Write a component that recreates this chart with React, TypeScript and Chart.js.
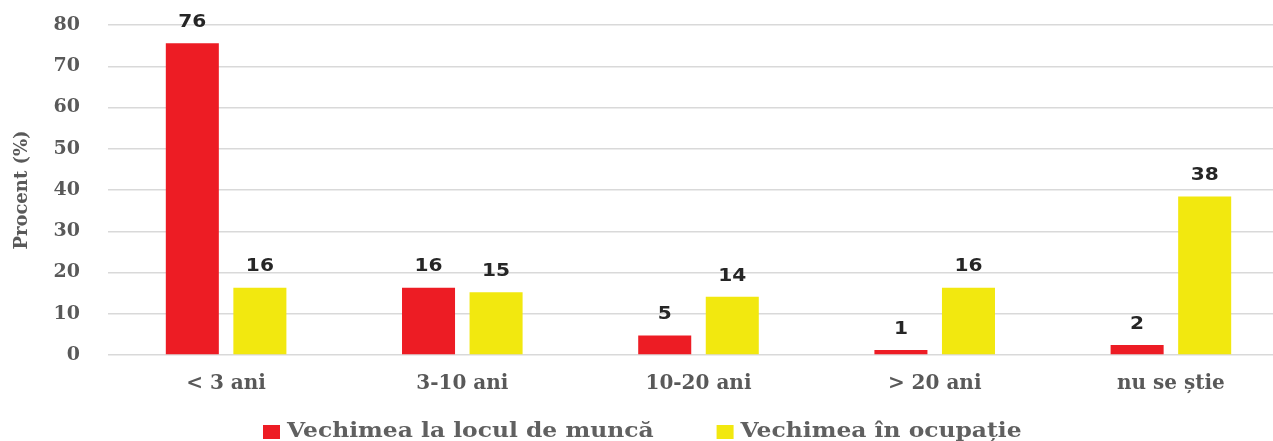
import React, { useEffect, useRef } from "react";
import { Chart, registerables } from "chart.js";

Chart.register(...registerables);

const categories = ["< 3 ani", "3-10 ani", "10-20 ani", "> 20 ani", "nu se știe"];
const seriesNames = ["Vechimea la locul de muncă", "Vechimea în ocupație"];
const jobTenure = [75.6, 16.3, 4.7, 1.2, 2.4];
const occupationTenure = [16.3, 15.2, 14.1, 16.3, 38.4];
const yTicks = [0, 10, 20, 30, 40, 50, 60, 70, 80];
const yTitle = "Procent (%)";

const RED = "#ED1C24";
const YELLOW = "#F2E80F";
const GRAY = "#595959";
const SERIF = "'DejaVu Serif', 'Liberation Serif', serif";

const valueLabels = {
  id: "valueLabels",
  afterDatasetsDraw(chart: any) {
    const ctx = chart.ctx;
    ctx.save();
    ctx.font = "bold 18px 'DejaVu Sans', sans-serif";
    ctx.fillStyle = "#262626";
    ctx.textAlign = "center";
    ctx.textBaseline = "middle";
    chart.data.datasets.forEach((ds: any, di: number) => {
      const meta = chart.getDatasetMeta(di);
      meta.data.forEach((bar: any, i: number) => {
        ctx.save();
        ctx.translate(bar.x, bar.y - 21);
        ctx.scale(1.12, 1);
        ctx.fillText(String(Math.round(ds.data[i])), 0, 0);
        ctx.restore();
      });
    });
    ctx.restore();
  },
};

const customLegend = {
  id: "customLegend",
  afterDraw(chart: any) {
    const ctx = chart.ctx;
    ctx.save();
    ctx.font = "bold 20px " + SERIF;
    ctx.textBaseline = "middle";
    ctx.textAlign = "left";
    const sx = 1.17;
    const y = 432;
    let x = 263;
    chart.data.datasets.forEach((ds: any) => {
      ctx.fillStyle = ds.backgroundColor;
      ctx.fillRect(x, y - 7, 17, 14);
      x += 17 + 7;
      ctx.fillStyle = "#606060";
      ctx.save();
      ctx.translate(x, y);
      ctx.scale(sx, 1);
      ctx.fillText(ds.label, 0, 0);
      ctx.restore();
      x += ctx.measureText(ds.label).width * sx + 63;
    });
    ctx.restore();
  },
};

export default function App() {
  const ref = useRef<HTMLCanvasElement | null>(null);
  useEffect(() => {
    if (!ref.current) return;
    const chart = new Chart(ref.current, {
      type: "bar",
      data: {
        labels: categories,
        datasets: [
          { label: seriesNames[0], data: jobTenure, backgroundColor: RED },
          { label: seriesNames[1], data: occupationTenure, backgroundColor: YELLOW },
        ],
      },
      options: {
        animation: false,
        responsive: false,
        maintainAspectRatio: false,
        layout: { padding: { top: 25, left: 0, right: 1, bottom: 0 } },
        datasets: {
          bar: { categoryPercentage: 0.572, barPercentage: 0.785 },
        } as any,
        plugins: {
          legend: { display: false },
          tooltip: { enabled: false },
        },
        scales: {
          x: {
            grid: { display: false },
            border: { display: false },
            ticks: {
              color: GRAY,
              padding: 9,
              font: { family: SERIF, size: 20, weight: "bold" },
            },
            afterFit: (s: any) => {
              s.height = 86;
            },
          },
          y: {
            min: 0,
            max: 80,
            afterBuildTicks: (s: any) => {
              s.ticks = yTicks.map((v) => ({ value: v }));
            },
            grid: { color: "#D9D9D9", lineWidth: 1.5, drawTicks: false },
            border: { display: false },
            ticks: {
              color: GRAY,
              padding: 28,
              font: { family: SERIF, size: 19, weight: "bold" },
            },
            title: {
              display: true,
              text: yTitle,
              color: GRAY,
              padding: { top: 12, bottom: 0 },
              font: { family: SERIF, size: 18, weight: "bold" },
            },
            afterFit: (s: any) => {
              s.width = 108;
              s.paddingTop = 0;
              s.paddingBottom = 0;
            },
          },
        },
      },
      plugins: [valueLabels, customLegend],
    });
    return () => chart.destroy();
  }, []);
  return (
    <div style={{ position: "absolute", left: 0, top: 0, width: 1273, height: 441, overflow: "hidden", background: "#fff" }}>
      <canvas ref={ref} width={1290} height={441} style={{ display: "block" }} />
    </div>
  );
}
